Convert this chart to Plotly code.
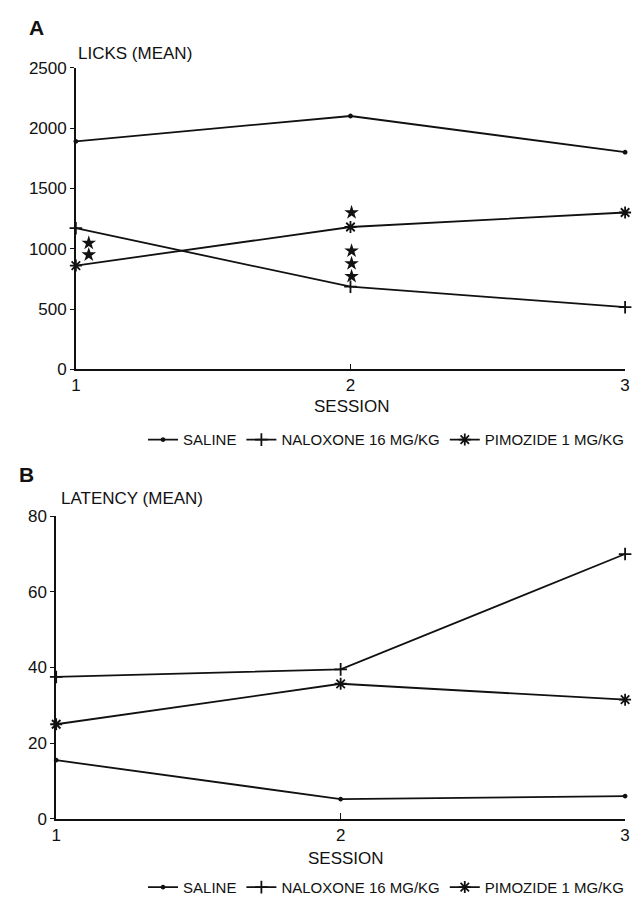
import plotly.graph_objects as go

# Sessions on the x axis
sessions = [1, 2, 3]

# Panel A: licks (mean)
licks_saline = [1890, 2100, 1800]
licks_naloxone = [1170, 685, 515]
licks_pimozide = [860, 1180, 1300]

# Significance stars in panel A (session position, value)
star_x = [1.047, 1.047, 2.004, 2.004, 2.004, 2.004, 3.004, 3.004, 3.004]
star_y = [1047, 950, 1300, 982, 877, 771, 812, 706, 608]

# Panel B: latency (mean)
lat_saline = [15.5, 5.2, 6.0]
lat_naloxone = [37.5, 39.5, 70]
lat_pimozide = [25, 35.7, 31.5]

names = ["SALINE", "NALOXONE 16 MG/KG", "PIMOZIDE 1 MG/KG"]
symbols = ["circle", "cross-thin", "asterisk"]
sizes = [3, 9, 10]

W, H = 636, 913
FONT = "Liberation Sans, Arial, Helvetica, sans-serif"
BLACK = "#111111"


def px_x(p):
    return p / W


def px_y(p):
    return 1 - p / H


fig = go.Figure()

series_a = [licks_saline, licks_naloxone, licks_pimozide]
series_b = [lat_saline, lat_naloxone, lat_pimozide]

for name, sym, sz, vals in zip(names, symbols, sizes, series_a):
    fig.add_trace(go.Scatter(
        x=sessions, y=vals, name=name, mode="lines+markers",
        line=dict(color=BLACK, width=1.8),
        marker=dict(symbol=sym, size=sz, color=BLACK,
                    line=dict(color=BLACK, width=1.8)),
        cliponaxis=False, xaxis="x", yaxis="y", legend="legend",
    ))

fig.add_trace(go.Scatter(
    x=star_x, y=star_y, mode="markers", showlegend=False,
    marker=dict(symbol="star", size=11, color=BLACK),
    cliponaxis=False, xaxis="x", yaxis="y",
))

for name, sym, sz, vals in zip(names, symbols, sizes, series_b):
    fig.add_trace(go.Scatter(
        x=sessions, y=vals, name=name, mode="lines+markers",
        line=dict(color=BLACK, width=1.8),
        marker=dict(symbol=sym, size=sz, color=BLACK,
                    line=dict(color=BLACK, width=1.8)),
        cliponaxis=False, xaxis="x2", yaxis="y2", legend="legend2",
    ))

axis_common = dict(
    showgrid=False, zeroline=False, showline=True,
    linecolor=BLACK, linewidth=1.5,
    tickfont=dict(family=FONT, size=17, color=BLACK),
)

legend_common = dict(
    orientation="h", xanchor="right", yanchor="middle",
    itemwidth=30, bgcolor="rgba(0,0,0,0)",
    font=dict(family=FONT, size=15, color=BLACK),
)

fig.update_layout(
    width=W, height=H, autosize=False,
    margin=dict(l=0, r=0, t=0, b=0),
    paper_bgcolor="white", plot_bgcolor="white",
    font=dict(family=FONT, color=BLACK),
    xaxis=dict(domain=[px_x(72), px_x(630)], range=[1, 3],
               tickvals=sessions, ticks="inside", ticklen=6,
               tickcolor=BLACK, anchor="y", **axis_common),
    yaxis=dict(domain=[px_y(368), px_y(60)], range=[0, 2500],
               tickvals=[0, 500, 1000, 1500, 2000, 2500],
               ticks="outside", ticklen=4, tickcolor=BLACK,
               anchor="x", **axis_common),
    xaxis2=dict(domain=[px_x(52), px_x(630)], range=[1, 3],
                tickvals=sessions, ticks="inside", ticklen=6,
                tickcolor=BLACK, anchor="y2", **axis_common),
    yaxis2=dict(domain=[px_y(827), px_y(518)], range=[0, 80],
                tickvals=[0, 20, 40, 60, 80],
                ticks="outside", ticklen=4, tickcolor=BLACK,
                anchor="x2", **axis_common),
    legend=dict(x=px_x(634), y=px_y(440), **legend_common),
    legend2=dict(x=px_x(634), y=px_y(897), **legend_common),
)

annotations = [
    dict(text="<b>A</b>", x=px_x(22), y=px_y(19), size=21),
    dict(text="LICKS (MEAN)", x=px_x(72), y=px_y(45), size=17),
    dict(text="SESSION", x=px_x(312), y=px_y(406), size=17),
    dict(text="<b>B</b>", x=px_x(12), y=px_y(475), size=21),
    dict(text="LATENCY (MEAN)", x=px_x(55), y=px_y(500), size=17),
    dict(text="SESSION", x=px_x(306), y=px_y(868), size=17),
]
for a in annotations:
    fig.add_annotation(
        text=a["text"], x=a["x"], y=a["y"], xref="paper", yref="paper",
        xanchor="left", yanchor="middle", showarrow=False,
        font=dict(family=FONT, size=a["size"], color=BLACK),
    )

fig.write_html("out.html")
